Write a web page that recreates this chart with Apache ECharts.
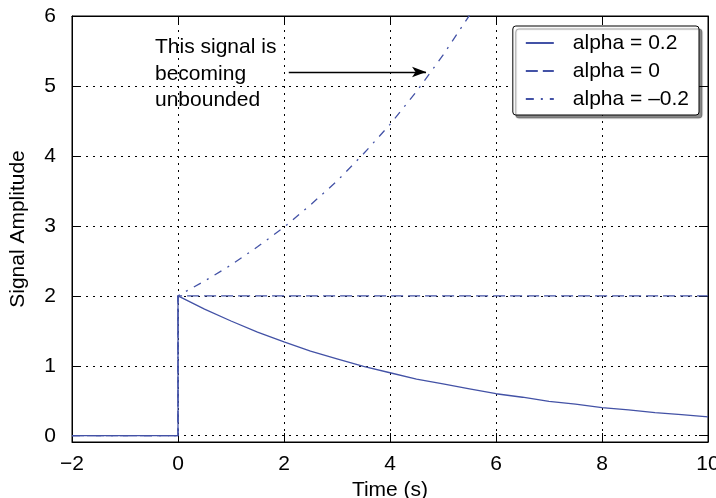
<!DOCTYPE html>
<html>
<head>
    <meta charset="utf-8">
    <title>Signal Amplitude</title>
    <script src="https://cdn.jsdelivr.net/npm/echarts@6/dist/echarts.min.js"></script>
</head>
<body style="margin:0">
    <div id="main" style="width: 716px;height:498px;"></div>
    <script type="text/javascript">
        // before the switch (t < 0) every signal sits at 0
        var tPre = [-2, 0];
        var levelPre = [0, 0];

        // alpha = 0.2 : decaying
        var tDecay = [0, 0.5, 1, 1.5, 2, 2.5, 3, 3.5, 4, 4.5, 5, 5.5, 6, 6.5, 7, 7.5, 8, 8.5, 9, 9.5, 10];
        var decay = [2.00, 1.81, 1.64, 1.48, 1.34, 1.21, 1.10, 0.99, 0.90, 0.81, 0.74, 0.67, 0.60, 0.55, 0.49, 0.45, 0.40, 0.37, 0.33, 0.30, 0.27];

        // alpha = 0 : constant
        var tFlat = [0, 10];
        var flat = [2, 2];

        // alpha = -0.2 : growing (leaves the plot at the top)
        var tGrow = [0, 0.5, 1, 1.5, 2, 2.5, 3, 3.5, 4, 4.5, 5, 5.5];
        var grow = [2.00, 2.21, 2.44, 2.70, 2.98, 3.30, 3.64, 4.03, 4.45, 4.92, 5.44, 6.01];

        var names = ['alpha = 0.2', 'alpha = 0', 'alpha = \u20130.2'];

        // arrow of the annotation, data coords
        var arrowFrom = [2.09, 5.2];
        var arrowTo = [4.68, 5.2];

        var font = "'Liberation Sans', Arial, sans-serif";
        var fs = 21;
        var lineColor = '#4352a6';

        function build(tx, vals) {
            var out = tPre.map(function (t, i) { return [t, levelPre[i]]; });
            tx.forEach(function (t, i) { out.push([t, vals[i]]); });
            return out;
        }

        var myChart = echarts.init(document.getElementById('main'));

        var tickStyle = { show: true, inside: true, length: 9, lineStyle: { color: '#000' } };
        var dotted = { show: true, lineStyle: { color: '#000', type: [2, 5], width: 1 } };

        var option = {
            backgroundColor: '#fff',
            animation: false,
            grid: {
                left: 72, right: 8, top: 16, bottom: 56,
                outerBoundsMode: 'none',
                containLabel: false,
                show: true, borderColor: '#000', borderWidth: 1
            },
            legend: {
                orient: 'vertical',
                right: 17,
                top: 26,
                data: names,
                itemWidth: 28,
                itemHeight: 14,
                itemGap: 6,
                padding: [6, 10, 5, 12],
                backgroundColor: '#fff',
                borderColor: '#000',
                borderWidth: 1,
                borderRadius: 3,
                shadowColor: 'rgba(0,0,0,0.45)',
                shadowOffsetX: 3,
                shadowOffsetY: 3,
                shadowBlur: 1,
                itemStyle: { opacity: 0 },
                textStyle: {
                    fontFamily: font, fontSize: fs, color: '#000',
                    lineHeight: 22, padding: [0, 0, 0, 14]
                }
            },
            xAxis: [{
                type: 'value',
                min: -2, max: 10, interval: 2,
                name: 'Time (s)',
                nameLocation: 'middle',
                nameGap: 33,
                nameTextStyle: { fontFamily: font, fontSize: fs, color: '#000' },
                axisLine: { show: true, onZero: false, lineStyle: { color: '#000' } },
                axisTick: tickStyle,
                axisLabel: {
                    margin: 12, fontFamily: font, fontSize: fs, color: '#000',
                    formatter: function (v) { return String(v).replace('-', '\u2212'); }
                },
                splitLine: dotted
            }, {
                type: 'value',
                position: 'top',
                min: -2, max: 10, interval: 2,
                axisLine: { show: true, onZero: false, lineStyle: { color: '#000' } },
                axisTick: tickStyle,
                axisLabel: { show: false },
                splitLine: { show: false }
            }],
            yAxis: [{
                type: 'value',
                min: -0.09, max: 6, splitNumber: 6,
                name: 'Signal Amplitude',
                nameLocation: 'middle',
                nameGap: 43,
                nameTextStyle: { fontFamily: font, fontSize: fs, color: '#000' },
                axisLine: { show: true, onZero: false, lineStyle: { color: '#000' } },
                axisTick: tickStyle,
                axisLabel: {
                    margin: 16, fontFamily: font, fontSize: fs, color: '#000',
                    formatter: function (v) { return Number.isInteger(v) ? String(v) : ''; }
                },
                splitLine: dotted
            }, {
                type: 'value',
                position: 'right',
                min: -0.09, max: 6, splitNumber: 6,
                axisLine: { show: true, onZero: false, lineStyle: { color: '#000' } },
                axisTick: tickStyle,
                axisLabel: { show: false },
                splitLine: { show: false }
            }],
            graphic: [{
                type: 'text',
                left: 155,
                top: 34,
                z: 10,
                style: {
                    text: 'This signal is\nbecoming\nunbounded',
                    font: fs + 'px ' + font,
                    fill: '#000',
                    lineHeight: 26.5
                }
            }],
            series: [{
                name: names[0],
                type: 'line',
                symbol: 'none',
                data: build(tDecay, decay),
                lineStyle: { color: lineColor, width: 1.3, type: 'solid' },
                itemStyle: { color: lineColor }
            }, {
                name: names[1],
                type: 'line',
                symbol: 'none',
                data: build(tFlat, flat),
                lineStyle: { color: lineColor, width: 1.3, type: [12, 5] },
                itemStyle: { color: lineColor }
            }, {
                name: names[2],
                type: 'line',
                symbol: 'none',
                clip: true,
                data: build(tGrow, grow),
                lineStyle: { color: lineColor, width: 1.3, type: [8, 7, 2, 7] },
                itemStyle: { color: lineColor },
                markLine: {
                    silent: true,
                    symbol: ['none', 'arrow'],
                    symbolSize: [8, 14],
                    label: { show: false },
                    lineStyle: { color: '#000', width: 1.3, type: 'solid' },
                    data: [[{ coord: arrowFrom }, { coord: arrowTo }]]
                }
            }]
        };

        myChart.setOption(option);
    </script>
</body>
</html>
